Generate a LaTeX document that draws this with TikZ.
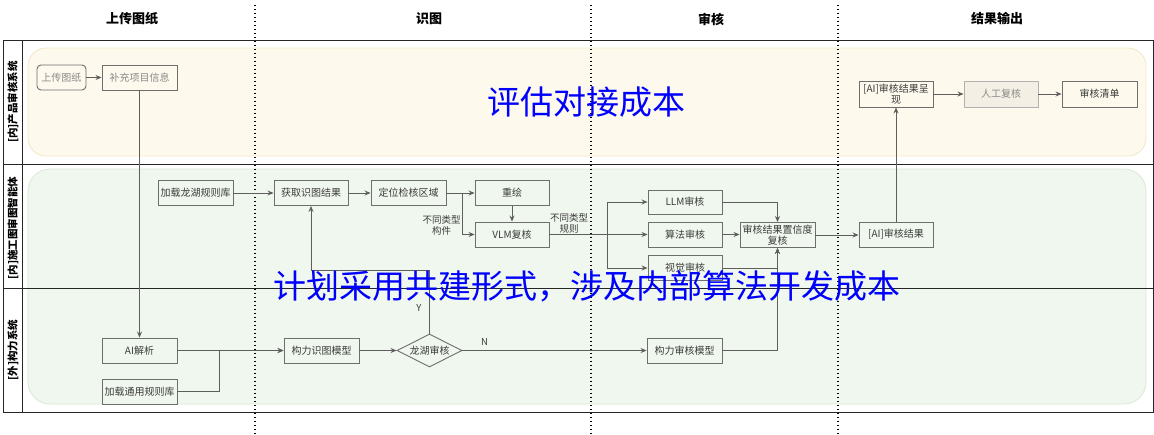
\documentclass[tikz,border=0pt]{standalone}
\usepackage{fontspec}
\setmainfont{Noto Sans CJK SC}
\usetikzlibrary{shapes.geometric,arrows.meta}
\definecolor{laneY}{HTML}{FDF9ED}
\definecolor{laneYb}{HTML}{F3E8C6}
\definecolor{laneG}{HTML}{F0F7EE}
\definecolor{laneGb}{HTML}{DAEAD3}
\definecolor{boxc}{HTML}{6E6E6E}
\definecolor{linec}{HTML}{5E5E5E}
\definecolor{txtc}{HTML}{3C3C3C}
\definecolor{txtl}{HTML}{8A8A8A}
\definecolor{bigblue}{RGB}{0,0,255}
\tikzset{
  boxn/.style={draw=boxc, line width=0.9pt, minimum width=75pt, minimum height=25pt, inner sep=1pt,
    align=center, text=txtc, font=\fontsize{10}{11.5}\selectfont},
  arr/.style={draw=linec, line width=0.9pt, -{Stealth[length=6pt,width=5pt]}},
  ln/.style={draw=linec, line width=0.9pt},
  hdr/.style={font=\bfseries\fontsize{13}{15}\selectfont, text=black},
  lanelab/.style={rotate=90, font=\bfseries\fontsize{10.5}{12}\selectfont, text=black},
  note/.style={text=txtc, align=center, font=\fontsize{9.5}{11}\selectfont, inner sep=0pt},
  big/.style={text=bigblue, font=\fontsize{33}{36}\selectfont, inner sep=0pt, anchor=base},
  frame/.style={draw=black!85, line width=0.9pt},
  dots/.style={draw=black, line width=1.3pt, dash pattern=on 1.3pt off 2.7pt}
}
\begin{document}
\begin{tikzpicture}[x=1pt,y=-1pt]
\useasboundingbox (0,0) rectangle (1154,434);
\fill[white] (0,0) rectangle (1154,434);
% lane backgrounds
\draw[fill=laneY, draw=laneYb, line width=0.8pt, rounded corners=18pt] (28,48) rectangle (1146,156);
\draw[fill=laneG, draw=laneGb, line width=0.8pt, rounded corners=22pt] (28,169) rectangle (1146,404);
% frame
\draw[frame] (3,40) rectangle (1153,412.5);
\draw[frame] (22,40) -- (22,412.5);
\draw[frame] (3,164.5) -- (1153,164.5);
\draw[frame] (3,288) -- (1153,288);
% headers
\node[hdr] (h1) at (132,19) {上传图纸};
\node[hdr] (h2) at (429,19) {识图};
\node[hdr] (h3) at (711,19) {审核};
\node[hdr] (h4) at (997,19) {结果输出};
% lane labels
\node[lanelab] (l1) at (13,102) {[内]产品审核系统};
\node[lanelab] (l2) at (13,228) {[内]施工图审图智能体};
\node[lanelab] (l3) at (13,350) {[外]构力系统};
% dotted separators
\draw[dots] (255,5) -- (255,434);
\draw[dots] (591,5) -- (591,434);
\draw[dots] (838,5) -- (838,434);
% lane 1 nodes
\node[boxn, rounded corners=4pt, minimum width=49pt, text=txtl, fill=laneY] (up) at (61.5,77.5) {上传图纸};
\node[boxn, text=txtl, fill=laneY] (bc) at (139.5,77.5) {补充项目信息};
\node[boxn, minimum width=74pt, minimum height=26pt, fill=laneY] (aip) at (896,94) {[AI]审核结果呈\\现};
\node[boxn, minimum width=74pt, minimum height=26pt, fill=black!4!laneY, draw=black!30, text=txtl] (rg) at (1001,94) {人工复核};
\node[boxn, minimum height=26pt, fill=laneY] (qd) at (1099.5,94) {审核清单};
% lane 2 nodes
\node[boxn, fill=laneG] (jz) at (195.5,193) {加载龙湖规则库};
\node[boxn, minimum width=74pt, fill=laneG] (hq) at (311,193) {获取识图结果};
\node[boxn, fill=laneG] (dw) at (408.5,193) {定位检核区域};
\node[boxn, minimum width=74pt, fill=laneG] (ch) at (512,193) {重绘};
\node[boxn, minimum width=74pt, fill=laneG] (vlm) at (512,234.5) {VLM复核};
\node[boxn, minimum width=74pt, minimum height=24pt, fill=laneG] (llm) at (685,202) {LLM审核};
\node[boxn, minimum width=74pt, fill=laneG] (sf) at (685,234.5) {算法审核};
\node[boxn, minimum width=74pt, fill=laneG] (sj) at (685,268) {视觉审核};
\node[boxn, fill=laneG] (zx) at (777.5,235) {审核结果置信度\\复核};
\node[boxn, minimum width=74pt, fill=laneG] (air) at (896,234.5) {[AI]审核结果};
\node[note] (n1) at (441.5,225.5) {不同类型\\构件};
\node[note] (n2) at (569,223) {不同类型\\规则};
% lane 3 nodes
\node[boxn, fill=laneG] (aij) at (139.5,350.5) {AI解析};
\node[boxn, fill=laneG] (jt) at (139.5,391.5) {加载通用规则库};
\node[boxn, fill=laneG] (gs) at (321.5,350.5) {构力识图模型};
\node[draw=boxc, line width=0.9pt, shape=diamond, aspect=2, inner sep=0pt, minimum width=65pt, minimum height=33pt,
      text=txtc, font=\fontsize{10}{11.5}\selectfont, fill=laneG] (lh) at (429.5,350.5) {龙湖审核};
\node[boxn, fill=laneG] (gsh) at (684.5,350.5) {构力审核模型};
% connectors lane 1
\draw[arr] (up) -- (bc);
\draw[arr] (aip) -- (rg);
\draw[arr] (rg) -- (qd);
\draw[arr] (bc.south) -- (aij.north);
\draw[arr] (air.north) -- (aip.south);
% lane 2
\draw[arr] (jz) -- (hq);
\draw[arr] (hq) -- (dw);
\draw[arr] (dw) -- (ch);
\coordinate (b1) at (462,193);
\draw[arr] (b1) |- (vlm.west);
\draw[arr] (ch) -- (vlm);
\coordinate (b2) at (607,234.5);
\draw[ln, line width=1.4pt] (vlm.east) -- (b2);
\draw[arr] (b2) |- (llm.west);
\draw[arr] (b2) -- (sf.west);
\draw[arr] (b2) |- (sj.west);
\draw[arr] (llm.east) -| (zx.north);
\draw[arr] (sf.east) -- (zx.west |- sf.east);
\draw[arr] (sj.east) -| (zx.south);
\draw[arr] (zx.east) -- (air.west |- zx.east);
% lane 3
\draw[arr] (aij) -- (gs);
\draw[arr] (jt.east) -- ++(41.5,0) |- (gs.west);
\draw[arr] (gs) -- (lh);
\draw[arr] (lh) -- node[pos=0.12, above=5pt, note] (nN) {N} (gsh);
\draw[arr] (gsh.east) -| (zx.south);
\coordinate (yb) at (429.5,270);
\draw[arr] (lh.north) -- (yb) -| (hq.south);
\node[note] (nY) at (419,308) {Y};
% big overlay texts
\node[big] (t1) at (586.5,114.5) {评估对接成本};
\node[big] (t2) at (586.5,298.5) {计划采用共建形式，涉及内部算法开发成本};
\end{tikzpicture}
\end{document}
